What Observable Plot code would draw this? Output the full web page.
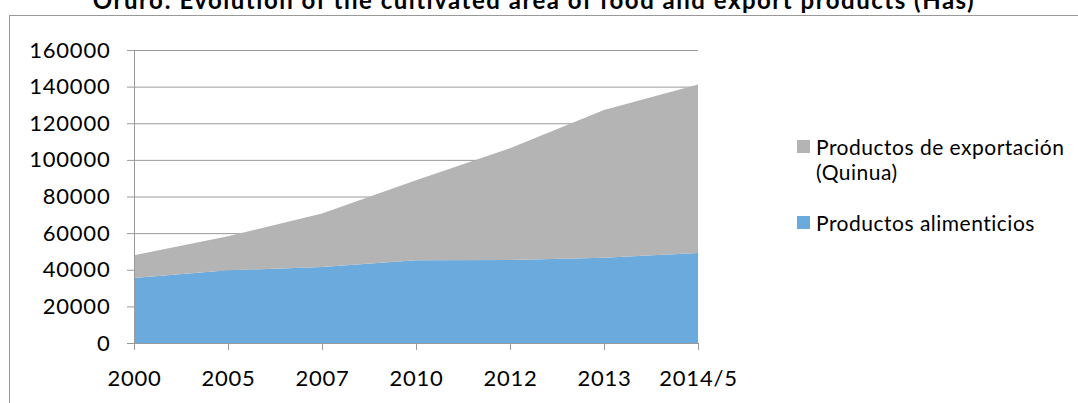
<!DOCTYPE html>
<html>
<head>
<meta charset="utf-8">
<script src="https://cdn.jsdelivr.net/npm/d3@7"></script>
<script src="https://cdn.jsdelivr.net/npm/@observablehq/plot@0.6"></script>
<style>
  html, body { margin: 0; padding: 0; background: #fff; }
  #wrap { position: relative; width: 1078px; height: 403px; overflow: hidden; font-family: Lato, "Open Sans", sans-serif; }
  #frame { position: absolute; left: 9px; top: 15px; width: 1080px; height: 420px; border: 1px solid #999; box-sizing: border-box; }
  #title { position: absolute; left: -5px; width: 1078px; top: -15px; text-align: center; font-weight: bold; font-size: 24px; letter-spacing: 1.5px; color: #000; white-space: nowrap; }
  #chart { position: absolute; left: 0; top: 0; }
  .leg { position: absolute; font-size: 21px; letter-spacing: 0.5px; color: #000; line-height: 25px; }
  .sw { position: absolute; width: 13px; height: 13px; }
</style>
</head>
<body>
<div id="wrap">
  <div id="frame"></div>
  <div id="title"></div>
  <div id="chart"></div>
  <div id="legend"></div>
</div>
<script>
const years = ["2000", "2005", "2007", "2010", "2012", "2013", "2014/5"];
const foodValues = [35500, 39700, 41500, 45200, 45300, 46500, 49200];
const exportValues = [12400, 18600, 29200, 43700, 61000, 80700, 92000];
const seriesNames = ["Productos alimenticios", "Productos de exportación (Quinua)"];
const seriesColors = ["#6aaadd", "#b4b4b4"];
const yTicks = [0, 20000, 40000, 60000, 80000, 100000, 120000, 140000, 160000];
const titleText = "Oruro: Evolution of the cultivated area of food and export products (Has)";

document.getElementById("title").textContent = titleText;

const data = [];
years.forEach((y, i) => {
  data.push({year: y, series: seriesNames[0], value: foodValues[i]});
  data.push({year: y, series: seriesNames[1], value: exportValues[i]});
});

const plot = Plot.plot({
  width: 1078,
  height: 403,
  marginLeft: 134,
  marginRight: 380,
  marginTop: 50,
  marginBottom: 60,
  style: {fontFamily: "Lato, 'Open Sans', sans-serif", fontSize: "22px", letterSpacing: "0.8px", color: "#000", background: "transparent"},
  x: {type: "point", domain: years, padding: 0, label: null},
  y: {domain: [0, 160000], ticks: yTicks, label: null},
  color: {domain: seriesNames, range: seriesColors},
  marks: [
    Plot.gridY(yTicks, {stroke: "#9a9a9a", strokeOpacity: 1, strokeWidth: 1}),
    Plot.areaY(data, {x: "year", y: "value", fill: "series", z: "series", order: seriesNames, curve: "linear"}),
    Plot.axisY({ticks: yTicks, tickSize: 7, tickPadding: 17, stroke: "#9a9a9a", tickFormat: d => String(d), fill: "#000", fontSize: 22}),
    Plot.axisX({tickSize: 7, tickPadding: 20, stroke: "#9a9a9a", fill: "#000", fontSize: 22}),
    Plot.ruleX([years[0]], {stroke: "#9a9a9a"}),
    Plot.ruleY([0], {stroke: "#9a9a9a"})
  ]
});
document.getElementById("chart").appendChild(plot);

const legend = document.getElementById("legend");
const legendItems = [
  {name: seriesNames[1], color: seriesColors[1], lines: ["Productos de exportación", "(Quinua)"], top: 134},
  {name: seriesNames[0], color: seriesColors[0], lines: ["Productos alimenticios"], top: 210}
];
legendItems.forEach(it => {
  const sw = document.createElement("div");
  sw.className = "sw";
  sw.style.left = "797px";
  sw.style.top = (it.top + 6) + "px";
  sw.style.background = it.color;
  legend.appendChild(sw);
  const t = document.createElement("div");
  t.className = "leg";
  t.style.left = "816px";
  t.style.top = it.top + "px";
  t.innerHTML = it.lines.join("<br>");
  legend.appendChild(t);
});
</script>
</body>
</html>
